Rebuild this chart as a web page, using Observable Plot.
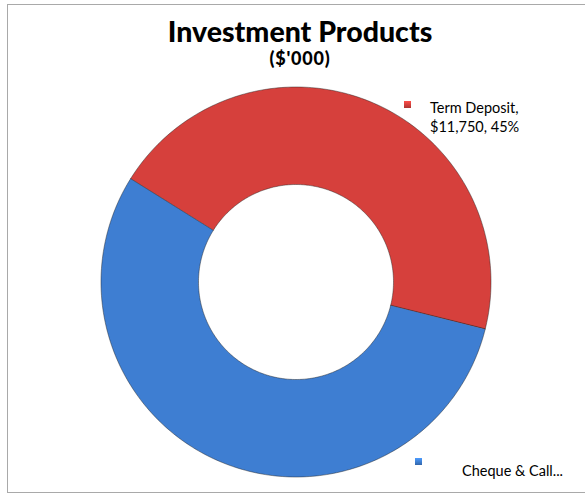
<!DOCTYPE html>
<html>
<head>
<meta charset="utf-8">
<script src="https://cdn.jsdelivr.net/npm/d3@7"></script>
<script src="https://cdn.jsdelivr.net/npm/@observablehq/plot@0.6"></script>
<style>
  body { margin: 0; background: #fff; }
  #wrap { position: relative; width: 585px; height: 495px; overflow: hidden; font-family: Lato, "Open Sans", sans-serif; }
  #frame { position: absolute; left: 7px; top: 4px; width: 590px; height: 487px; border: 1px solid #a9a9a9; }
  #chart { position: absolute; left: 0; top: 0; }
  #title { position: absolute; left: 0; width: 600px; top: 14px; text-align: center; font-weight: 900; font-size: 28.5px; color: #000; }
  #subtitle { position: absolute; left: 0; width: 600px; top: 47px; text-align: center; font-weight: 900; font-size: 18px; letter-spacing: 0.8px; color: #000; }
  .leg { position: absolute; font-size: 14.5px; color: #000; line-height: 19px; }
  .mk { position: absolute; width: 7px; height: 7px; }
</style>
</head>
<body>
<div id="wrap">
  <div id="frame"></div>
  <div id="chart"></div>
  <div id="title">Investment Products</div>
  <div id="subtitle">($'000)</div>
</div>
<script>
const categories = ["Term Deposit", "Cheque & Call..."];
const values = [11750, 14360];
const colors = ["#d6403c", "#3e7ed2"];
const title = "Investment Products";

const W = 585, H = 495;
const cx = 296, cy = 282, R = 195, innerRatio = 0.5;
const startAngle = -58; // degrees, clockwise from top

const total = d3.sum(values);
const pts = [];
let a = startAngle;
categories.forEach((c, i) => {
  const span = values[i] / total * 360;
  const n = Math.ceil(span);
  for (let k = 0; k <= n; k++) {
    const t = (a + span * k / n) * Math.PI / 180;
    pts.push({cat: c, x1: innerRatio * Math.sin(t), y1: innerRatio * Math.cos(t), x2: Math.sin(t), y2: Math.cos(t)});
  }
  a += span;
});

const plot = Plot.plot({
  width: W, height: H,
  margin: 0,
  x: {domain: [-cx / R, (W - cx) / R], axis: null},
  y: {domain: [-(H - cy) / R, cy / R], axis: null},
  color: {domain: categories, range: colors},
  marks: [
    Plot.area(pts, {x1: "x1", y1: "y1", x2: "x2", y2: "y2", z: "cat", fill: "cat", stroke: "#222", strokeOpacity: 0.45, strokeWidth: 1})
  ]
});
document.getElementById("chart").appendChild(plot);

const wrap = document.getElementById("wrap");
const legendPos = [
  {mx: 404, my: 101, tx: 430, ty: 98, lines: [categories[0] + ",", "$" + d3.format(",")(values[0]) + ", " + Math.round(values[0] / total * 100) + "%"]},
  {mx: 415, my: 458, tx: 462, ty: 461, lines: [categories[1]]}
];
legendPos.forEach((p, i) => {
  const m = document.createElement("div");
  m.className = "mk";
  m.style.left = p.mx + "px"; m.style.top = p.my + "px";
  m.style.background = `linear-gradient(${d3.color(colors[i]).brighter(0.6)}, ${d3.color(colors[i]).darker(0.6)})`;
  wrap.appendChild(m);
  const t = document.createElement("div");
  t.className = "leg";
  t.style.left = p.tx + "px"; t.style.top = p.ty + "px";
  t.innerHTML = p.lines.map(s => s.replace(/&/g, "&amp;")).join("<br>");
  wrap.appendChild(t);
});
</script>
</body>
</html>
